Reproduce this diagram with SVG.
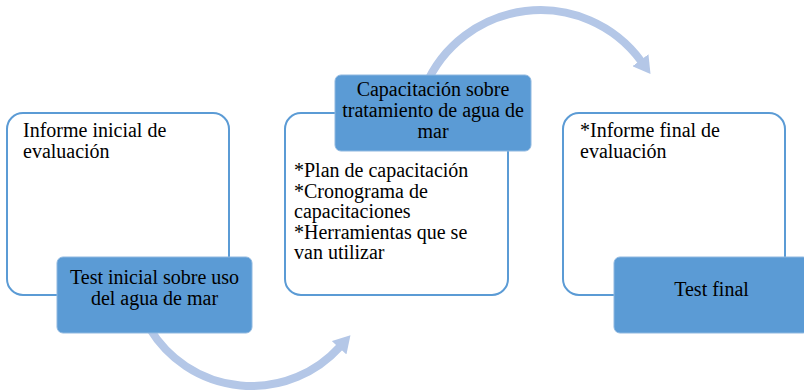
<svg xmlns="http://www.w3.org/2000/svg" width="804" height="392" viewBox="0 0 804 392">
<style>
.outline{fill:#ffffff;stroke:#5b9bd5;stroke-width:2}
.blue{fill:#5b9bd5;stroke:#8fb8e0;stroke-width:1}
.arc{fill:none;stroke:#b4c7e7;stroke-width:8}
text{font-family:"Liberation Serif","Times New Roman",serif;font-size:20px;fill:#000}
.c{text-anchor:middle}
</style>
<defs>
<marker id="ah" markerUnits="userSpaceOnUse" markerWidth="18" markerHeight="20" refX="1" refY="10" orient="auto" viewBox="0 0 18 20">
<path d="M0,0 L17,10 L0,20 z" fill="#b4c7e7"/>
</marker>
</defs>
<rect width="804" height="392" fill="#ffffff"/>
<g id="connectors">
<path class="arc" d="M150,329 A119,119 0 0 0 339.7,347" marker-end="url(#ah)"/>
<path class="arc" d="M425,87 A125,125 0 0 1 641,61" marker-end="url(#ah)"/>
</g>
<g id="node1">
<rect class="outline" x="7" y="113" width="222" height="182" rx="16"/>
<text x="23" y="137">Informe inicial de</text>
<text x="23" y="158">evaluación</text>
</g>
<g id="node1b">
<rect class="blue" x="57" y="257" width="195" height="76" rx="6"/>
<text class="c" x="154.5" y="284">Test inicial sobre uso</text>
<text class="c" x="154.5" y="305">del agua de mar</text>
</g>
<g id="node2">
<rect class="outline" x="285" y="113" width="223" height="182" rx="16"/>
<text x="294" y="177">*Plan de capacitación</text>
<text x="294" y="197.5">*Cronograma de</text>
<text x="294" y="218">capacitaciones</text>
<text x="294" y="238.5">*Herramientas que se</text>
<text x="294" y="259">van utilizar</text>
</g>
<g id="node2b">
<rect class="blue" x="335" y="75" width="196" height="76" rx="6"/>
<text class="c" x="433" y="96">Capacitación sobre</text>
<text class="c" x="433" y="117">tratamiento de agua de</text>
<text class="c" x="433" y="138">mar</text>
</g>
<g id="node3">
<rect class="outline" x="563" y="113" width="222" height="182" rx="16"/>
<text x="580" y="137">*Informe final de</text>
<text x="580" y="158">evaluación</text>
</g>
<g id="node3b">
<rect class="blue" x="614" y="257" width="195" height="76" rx="6"/>
<text class="c" x="711.5" y="296">Test final</text>
</g>
</svg>
